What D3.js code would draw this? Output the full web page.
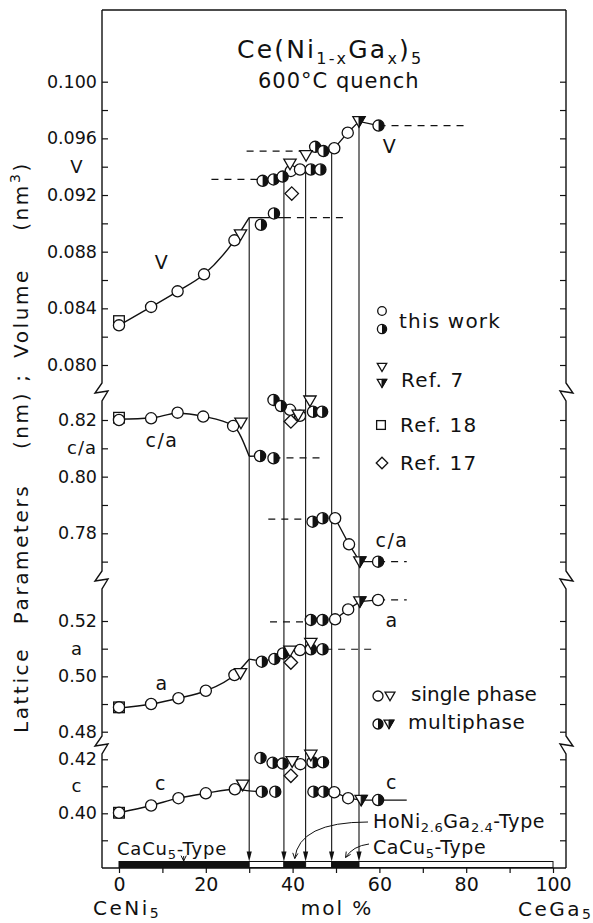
<!DOCTYPE html>
<html>
<head>
<meta charset="utf-8">
<script src="https://cdn.jsdelivr.net/npm/d3@7/dist/d3.min.js"></script>
<style>
  html, body { margin: 0; padding: 0; background: #fff; }
  svg { display: block; }
  text { font-family: "DejaVu Sans", sans-serif; fill: #111; }
</style>
</head>
<body>
<svg id="chart" width="593" height="923"></svg>
<script>
// ---------------------------------------------------------------
// Ce(Ni1-xGax)5, 600 °C quench: unit-cell volume and lattice
// parameters versus Ga content (mol %).
// Each point: [mol % CeGa5, value]
// ---------------------------------------------------------------

// Volume V (nm^3)
const vOpen     = [[0,0.0828],[7.4,0.0841],[13.5,0.0852],[19.6,0.0864],[26.6,0.0888],[39.6,0.0937],[41.7,0.0938],[49.6,0.0953],[52.7,0.0964]];
const vHalf     = [[32.7,0.0899],[35.7,0.0907],[33.1,0.0930],[35.6,0.0931],[37.7,0.0933],[44.2,0.0938],[46.4,0.0938],[45.2,0.0954],[47.1,0.0951],[59.8,0.0969]];
const vTriOpen  = [[28.0,0.0892],[39.4,0.0942],[43.1,0.0948]];
const vTriHalf  = [[55.3,0.0972]];
const vSquare   = [[0,0.0831]];
const vDiamond  = [[39.8,0.0921]];
const vCurve    = [[0,0.0828],[7.4,0.0841],[13.5,0.0852],[19.6,0.0864],[26.6,0.0888],[30,0.0904]];
const vLines    = [[[30,0.0904],[38,0.0904]],
                   [[37.7,0.0933],[39.6,0.0937],[41.7,0.0938],[43,0.0938]],
                   [[49,0.0951],[49.6,0.0953],[52.7,0.0964],[55.3,0.0972],[59.8,0.0969]]];
const vDashed   = [[[21.3,0.0931],[33.1,0.0931]],
                   [[29.4,0.0951],[42.5,0.0951]],
                   [[38,0.0904],[52.3,0.0904]],
                   [[59.8,0.0969],[80,0.0969]]];

// Axial ratio c/a
const caOpen    = [[0,0.8200],[7.4,0.8206],[13.5,0.8226],[19.4,0.8212],[26.3,0.8179],[39.4,0.8236],[41.7,0.8215],[49.8,0.7853],[53.0,0.7761]];
const caHalf    = [[32.5,0.8073],[35.6,0.8065],[35.6,0.8271],[37.3,0.8249],[44.7,0.8229],[46.8,0.8229],[44.6,0.7841],[46.9,0.7853],[59.7,0.7700]];
const caTriOpen = [[28.1,0.8190],[41.3,0.8218],[44.0,0.8268]];
const caTriHalf = [[55.5,0.7700]];
const caSquare  = [[0,0.8208]];
const caDiamond = [[39.6,0.8195]];
const caCurve   = [[0,0.8203],[7.4,0.8207],[13.5,0.8224],[19.4,0.8213],[26.3,0.8180],[30,0.8072]];
const caLines   = [[[30,0.8072],[32.5,0.8073]],
                   [[49.8,0.7853],[53.0,0.7761],[55.5,0.7700],[59.7,0.7700]]];
const caDashed  = [[[35.6,0.8066],[46.3,0.8066]],
                   [[34.4,0.7850],[44.6,0.7850]],
                   [[59.7,0.7700],[66.3,0.7700]]];

// Lattice parameter a (nm)
const aOpen     = [[0,0.4888],[7.4,0.4900],[13.7,0.4921],[20,0.4948],[26.6,0.5005],[41.7,0.5095],[49.8,0.5206],[52.8,0.5242],[59.7,0.5276]];
const aHalf     = [[32.9,0.5053],[35.8,0.5063],[37.8,0.5083],[44.2,0.5098],[46.9,0.5098],[44.2,0.5204],[46.9,0.5204]];
const aTriOpen  = [[28.0,0.5011],[39.4,0.5092],[44.2,0.5120]];
const aTriHalf  = [[55.5,0.5270]];
const aSquare   = [[0,0.4888]];
const aDiamond  = [[39.6,0.5050]];
const aCurve    = [[0,0.4885],[7.4,0.4900],[13.7,0.4921],[20,0.4948],[26.6,0.5005],[30,0.5062]];
const aLines    = [[[30,0.5062],[32.9,0.5055],[35.8,0.5063],[37.8,0.5083],[39.4,0.5092],[41.7,0.5095],[43,0.5098]],
                   [[49.8,0.5206],[52.8,0.5242],[55.5,0.5270],[59.7,0.5276]]];
const aDashed   = [[[34.8,0.5197],[44.2,0.5197]],
                   [[47.5,0.5098],[58.3,0.5098]],
                   [[59.7,0.5276],[66.3,0.5276]]];

// Lattice parameter c (nm)
const cOpen     = [[0,0.4002],[7.4,0.4029],[13.7,0.4056],[20,0.4074],[26.7,0.4089],[41.8,0.4182],[49.6,0.4078],[52.8,0.4056]];
const cHalf     = [[32.9,0.4080],[36.0,0.4080],[32.6,0.4205],[35.4,0.4187],[37.7,0.4184],[44.6,0.4189],[47.0,0.4189],[44.8,0.4080],[47.1,0.4080],[59.7,0.4049]];
const cTriOpen  = [[28.5,0.4105],[39.9,0.4192],[44.2,0.4216]];
const cTriHalf  = [[55.8,0.4049]];
const cSquare   = [[0,0.4002]];
const cDiamond  = [[39.6,0.4139]];
const cCurve    = [[0,0.4002],[7.4,0.4029],[13.7,0.4056],[20,0.4074],[26.7,0.4089],[30,0.4083],[32.9,0.4080]];
const cLines    = [[[44.8,0.4080],[49.6,0.4078],[52.8,0.4056],[55.8,0.4049],[66.3,0.4049]]];

// Phase boundaries (mol %) and the volume at which each boundary line starts
const phaseBounds = [30, 38, 43, 49, 55.3];
const boundTopV   = [0.0904, 0.0933, 0.0938, 0.0951, 0.0972];

// Phase bar along the composition axis: edges and whether the range is single phase
const barEdges  = [0, 30, 38, 43, 49, 55.3, 100];
const barSingle = [true, false, true, false, true, false];

// Axis ticks
const molTicks   = d3.range(0, 101, 10);
const molLabels  = [0, 20, 40, 60, 80, 100];
const vTicks     = d3.range(0.080, 0.1001, 0.002);
const vLabels    = [0.080, 0.084, 0.088, 0.092, 0.096, 0.100];
const caTicks    = [0.77, 0.78, 0.79, 0.80, 0.81, 0.82];
const caLabels   = [0.78, 0.80, 0.82];
const aTicks     = [0.48, 0.49, 0.50, 0.51, 0.52];
const aLabels    = [0.48, 0.50, 0.52];
const cTicks     = [0.39, 0.40, 0.41, 0.42];
const cLabels    = [0.40, 0.42];

// ---------------------------------------------------------------
const svg = d3.select("#chart");
const frame = {left: 102, right: 566, top: 10, bottom: 868};
const breaks = [392, 580, 745];

const x   = d3.scaleLinear().domain([0, 100]).range([119, 553]);
const yV  = d3.scaleLinear().domain([0.080, 0.100]).range([365, 81.7]);
const yCA = d3.scaleLinear().domain([0.78, 0.82]).range([533.3, 420]);
const yA  = d3.scaleLinear().domain([0.48, 0.52]).range([731.7, 621]);
const yC  = d3.scaleLinear().domain([0.40, 0.42]).range([813.3, 759.3]);

const near = (a, b) => Math.abs(a - b) < 1e-6;

// Frame with axis-break zigzags
function framePath(xf, dir) {
  let d = `M${xf},${frame.top}`;
  breaks.forEach(b => {
    d += `L${xf},${b - 9}L${xf - 7 * dir},${b + 1}L${xf + 6 * dir},${b - 1}L${xf},${b + 9}`;
  });
  d += `L${xf},${frame.bottom}`;
  return d;
}
svg.append("path").attr("d", framePath(frame.left, 1)).attr("fill", "none").attr("stroke", "#111").attr("stroke-width", 1.4);
svg.append("path").attr("d", framePath(frame.right, -1)).attr("fill", "none").attr("stroke", "#111").attr("stroke-width", 1.4);
svg.append("line").attr("x1", frame.left).attr("x2", frame.right).attr("y1", frame.top).attr("y2", frame.top)
  .attr("stroke", "#111").attr("stroke-width", 1.4);
svg.append("line").attr("x1", frame.left).attr("x2", frame.right).attr("y1", frame.bottom).attr("y2", frame.bottom)
  .attr("stroke", "#111").attr("stroke-width", 1.4);

// Left and right value axes (ticks pointing inwards)
function valueAxes(scale, ticks, labels, fmt) {
  const left = d3.axisLeft(scale).tickValues(ticks).tickSize(-6).tickPadding(5)
    .tickFormat(d => labels.some(l => near(l, d)) ? fmt(d) : "");
  const gl = svg.append("g").attr("transform", `translate(${frame.left},0)`).call(left);
  gl.select(".domain").remove();
  gl.selectAll("line").attr("stroke", "#111").attr("stroke-width", 1.2);
  gl.selectAll("text").attr("font-size", 17.5).attr("font-family", "DejaVu Sans").attr("fill", "#111");
  const right = d3.axisRight(scale).tickValues(ticks).tickSize(-6).tickFormat("");
  const gr = svg.append("g").attr("transform", `translate(${frame.right},0)`).call(right);
  gr.select(".domain").remove();
  gr.selectAll("line").attr("stroke", "#111").attr("stroke-width", 1.2);
}
valueAxes(yV, vTicks, vLabels, d3.format(".3f"));
valueAxes(yCA, caTicks, caLabels, d3.format(".2f"));
valueAxes(yA, aTicks, aLabels, d3.format(".2f"));
valueAxes(yC, cTicks, cLabels, d3.format(".2f"));

// Quantity symbols beside the value axis
const axisSym = [["V", yV(0.094), "middle", 77], ["c/a", yCA(0.81), "end", 97], ["a", yA(0.51), "middle", 77], ["c", yC(0.41), "middle", 77]];
axisSym.forEach(([t, yy, anchor, xx]) => {
  svg.append("text").attr("x", xx).attr("y", yy + 6).attr("text-anchor", anchor)
    .attr("font-size", 18).attr("letter-spacing", 1).text(t);
});

// Composition axis
const xAxis = d3.axisBottom(x).tickValues(molTicks).tickSize(5).tickPadding(5)
  .tickFormat(d => molLabels.includes(d) ? d : "");
const gx = svg.append("g").attr("transform", `translate(0,${frame.bottom})`).call(xAxis);
gx.select(".domain").remove();
gx.selectAll("line").attr("stroke", "#111").attr("stroke-width", 1.2);
gx.selectAll("text").attr("font-size", 19).attr("font-family", "DejaVu Sans").attr("fill", "#111");

// Line generators
const lineOf = (ys, curve) => d3.line().x(d => x(d[0])).y(d => ys(d[1])).curve(curve || d3.curveLinear);
const plot = svg.append("g");

function drawLines(ys, curvePts, lines, dashed) {
  if (curvePts) plot.append("path").attr("d", lineOf(ys, d3.curveMonotoneX)(curvePts))
    .attr("fill", "none").attr("stroke", "#111").attr("stroke-width", 1.4);
  (lines || []).forEach(l => plot.append("path").attr("d", lineOf(ys)(l))
    .attr("fill", "none").attr("stroke", "#111").attr("stroke-width", 1.3));
  (dashed || []).forEach(l => plot.append("path").attr("d", lineOf(ys)(l))
    .attr("fill", "none").attr("stroke", "#111").attr("stroke-width", 1.2).attr("stroke-dasharray", "7,6"));
}
drawLines(yV, vCurve, vLines, vDashed);
drawLines(yCA, caCurve, caLines, caDashed);
drawLines(yA, aCurve, aLines, aDashed);
drawLines(yC, cCurve, cLines, []);

// Phase-boundary lines ending in arrowheads on the phase bar
const barTop = 861.5, barBottom = 867.5;
phaseBounds.forEach((b, i) => {
  const xx = x(b);
  plot.append("line").attr("x1", xx).attr("x2", xx).attr("y1", yV(boundTopV[i])).attr("y2", barTop - 8)
    .attr("stroke", "#111").attr("stroke-width", 1.1);
  plot.append("path").attr("d", `M${xx - 2.6},${barTop - 10}L${xx + 2.6},${barTop - 10}L${xx},${barTop}Z`).attr("fill", "#111");
});

// Phase bar
barSingle.forEach((s, i) => {
  svg.append("rect").attr("x", x(barEdges[i])).attr("y", barTop)
    .attr("width", x(barEdges[i + 1]) - x(barEdges[i])).attr("height", barBottom - barTop)
    .attr("fill", s ? "#111" : "#fff").attr("stroke", "#111").attr("stroke-width", 1);
});

// Marker shapes
const R = 5.6;
function marker(g, type, px, py, r) {
  r = r || R;
  const st = {stroke: "#111", "stroke-width": 1.3};
  const apply = (s) => { Object.entries(st).forEach(([k, v]) => s.attr(k, v)); return s; };
  if (type === "o" || type === "h") {
    apply(g.append("circle").attr("cx", px).attr("cy", py).attr("r", r).attr("fill", "#fff"));
    if (type === "h") g.append("path").attr("d", `M${px},${py - r}A${r},${r} 0 0 1 ${px},${py + r}Z`).attr("fill", "#111");
  } else if (type === "t" || type === "th") {
    const w = r * 1.1, h1 = r * 0.85, h2 = r * 1.05;
    apply(g.append("path").attr("d", `M${px - w},${py - h1}L${px + w},${py - h1}L${px},${py + h2}Z`).attr("fill", "#fff"));
    if (type === "th") g.append("path").attr("d", `M${px},${py - h1}L${px + w},${py - h1}L${px},${py + h2}Z`).attr("fill", "#111")
      .attr("stroke", "#111").attr("stroke-width", 1);
  } else if (type === "s") {
    const s = r * 0.95;
    apply(g.append("rect").attr("x", px - s).attr("y", py - s).attr("width", 2 * s).attr("height", 2 * s).attr("fill", "#fff"));
  } else if (type === "d") {
    const s = r * 1.2;
    apply(g.append("path").attr("d", `M${px},${py - s}L${px + s},${py}L${px},${py + s}L${px - s},${py}Z`).attr("fill", "#fff"));
  }
}
function drawMarkers(ys, sets) {
  sets.forEach(([type, pts]) => pts.forEach(p => marker(plot, type, x(p[0]), ys(p[1]))));
}
drawMarkers(yV,  [["s", vSquare], ["d", vDiamond], ["o", vOpen], ["h", vHalf], ["t", vTriOpen], ["th", vTriHalf]]);
drawMarkers(yCA, [["s", caSquare], ["d", caDiamond], ["o", caOpen], ["h", caHalf], ["t", caTriOpen], ["th", caTriHalf]]);
drawMarkers(yA,  [["s", aSquare], ["d", aDiamond], ["o", aOpen], ["h", aHalf], ["t", aTriOpen], ["th", aTriHalf]]);
drawMarkers(yC,  [["s", cSquare], ["d", cDiamond], ["o", cOpen], ["h", cHalf], ["t", cTriOpen], ["th", cTriHalf]]);

// Curve labels
const curveLabels = [["V", 162, 269], ["c/a", 162, 447], ["a", 162, 690], ["c", 161, 790],
                     ["V", 390, 153], ["c/a", 392, 547], ["a", 392, 627], ["c", 392, 789]];
curveLabels.forEach(([t, xx, yy]) => svg.append("text").attr("x", xx).attr("y", yy).attr("text-anchor", "middle")
  .attr("font-size", 19).attr("letter-spacing", 1.5).text(t));

// Title
const title = svg.append("text").attr("x", 237).attr("y", 58).attr("font-size", 25).attr("letter-spacing", 2.2);
title.append("tspan").text("Ce(Ni");
title.append("tspan").attr("font-size", 16).attr("dy", 6).text("1-x");
title.append("tspan").attr("dy", -6).text("Ga");
title.append("tspan").attr("font-size", 16).attr("dy", 6).text("x");
title.append("tspan").attr("dy", -6).text(")");
title.append("tspan").attr("font-size", 16).attr("dy", 6).text("5");
svg.append("text").attr("x", 258).attr("y", 88).attr("font-size", 21).attr("letter-spacing", 1).text("600°C quench");

// Legend
const legend = svg.append("g");
marker(legend, "o", 382, 311, 4.3);
marker(legend, "h", 382, 329, 4.6);
marker(legend, "t", 382, 367, 4.3);
marker(legend, "th", 382, 383, 4.3);
marker(legend, "s", 381, 425, 4.6);
marker(legend, "d", 382, 463, 4.8);
[["this work", 399, 328], ["Ref. 7", 401, 387], ["Ref. 18", 400, 432], ["Ref. 17", 400, 470]].forEach(([t, xx, yy]) =>
  legend.append("text").attr("x", xx).attr("y", yy).attr("font-size", 20).attr("letter-spacing", 1.2).text(t));
marker(legend, "o", 378, 696, 5);
marker(legend, "t", 390, 696, 4.5);
marker(legend, "h", 378, 724, 5);
marker(legend, "th", 389, 724, 4.5);
legend.append("text").attr("x", 411).attr("y", 701).attr("font-size", 20).text("single phase");
legend.append("text").attr("x", 408).attr("y", 729).attr("font-size", 20).attr("letter-spacing", 0.6).text("multiphase");

// Vertical axis title
const yTitle = [["(nm", 196, true], ["Volume", 313], [";", 377], ["(nm)", 420], ["Parameters", 554], ["Lattice", 690]];
yTitle.forEach(([t, cy, sup]) => {
  const tx = svg.append("text").attr("transform", `translate(28,${cy}) rotate(-90)`).attr("text-anchor", "middle")
    .attr("font-size", 20).attr("letter-spacing", 2.6);
  tx.append("tspan").text(t);
  if (sup) {
    tx.append("tspan").attr("font-size", 14).attr("dy", -8).text("3");
    tx.append("tspan").attr("dy", 8).text(")");
  }
});

// Composition axis end labels
const endLab = svg.append("g");
const ceNi = endLab.append("text").attr("x", 93).attr("y", 915).attr("font-size", 20).attr("letter-spacing", 2.5);
ceNi.append("tspan").text("CeNi");
ceNi.append("tspan").attr("font-size", 14).attr("dy", 3).text("5");
endLab.append("text").attr("x", 337).attr("y", 915).attr("text-anchor", "middle").attr("font-size", 20).attr("letter-spacing", 2).text("mol %");
const ceGa = endLab.append("text").attr("x", 518).attr("y", 916).attr("font-size", 20).attr("letter-spacing", 2.5);
ceGa.append("tspan").text("CeGa");
ceGa.append("tspan").attr("font-size", 14).attr("dy", 3).text("5");

// Structure-type labels on the phase bar
const typeLab = svg.append("g");
const t1 = typeLab.append("text").attr("x", 117).attr("y", 855).attr("font-size", 18).attr("letter-spacing", 0.8);
t1.append("tspan").text("CaCu");
t1.append("tspan").attr("font-size", 13).attr("dy", 4).text("5");
t1.append("tspan").attr("dy", -4).text("-Type");
const t2 = typeLab.append("text").attr("x", 373).attr("y", 828).attr("font-size", 19).attr("letter-spacing", 0.6);
t2.append("tspan").text("HoNi");
t2.append("tspan").attr("font-size", 13).attr("dy", 4).text("2.6");
t2.append("tspan").attr("dy", -4).text("Ga");
t2.append("tspan").attr("font-size", 13).attr("dy", 4).text("2.4");
t2.append("tspan").attr("dy", -4).text("-Type");
const t3 = typeLab.append("text").attr("x", 373).attr("y", 854).attr("font-size", 19).attr("letter-spacing", 0.6);
t3.append("tspan").text("CaCu");
t3.append("tspan").attr("font-size", 13).attr("dy", 4).text("5");
t3.append("tspan").attr("dy", -4).text("-Type");

// Pointer arrows from the type labels to the bar
function pointer(x0, y0, cx, cy, x1, y1) {
  typeLab.append("path").attr("d", `M${x0},${y0}Q${cx},${cy} ${x1},${y1}`).attr("fill", "none").attr("stroke", "#111").attr("stroke-width", 1);
  const ang = Math.atan2(y1 - cy, x1 - cx);
  const L = 6, W = 0.45;
  typeLab.append("path").attr("d",
    `M${x1 - L * Math.cos(ang - W)},${y1 - L * Math.sin(ang - W)}L${x1},${y1}L${x1 - L * Math.cos(ang + W)},${y1 - L * Math.sin(ang + W)}`)
    .attr("fill", "none").attr("stroke", "#111").attr("stroke-width", 1);
}
pointer(368, 822, x(40.5) + 4, 822, x(40.5), barTop - 3);
pointer(369, 844, x(52.5) + 6, 846, x(52.2), barTop - 4);
pointer(x(14.9), 856, x(14.9), 858, x(14.9), barTop - 0.5);
</script>
</body>
</html>
